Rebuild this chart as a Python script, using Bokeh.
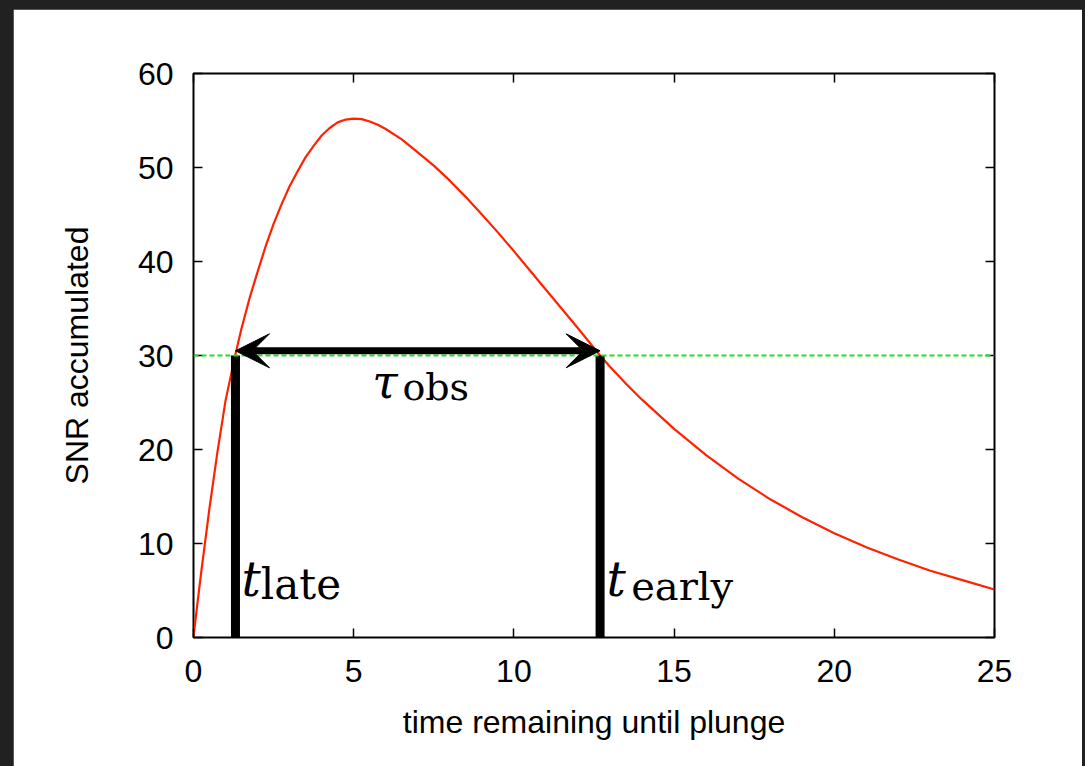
from bokeh.plotting import figure
from bokeh.models import (Range1d, FixedTicker, LinearAxis, Span, Arrow, VeeHead, Label,
                          ColumnDataSource, GlobalInlineStyleSheet)
from bokeh.embed import file_html
from bokeh.resources import INLINE

# ---------------- data ----------------
time_remaining = [0, 0.1, 0.25, 0.5, 0.75, 1.0, 1.3, 1.5, 1.75, 2.0, 2.25, 2.5, 2.75, 3.0, 3.25,
                  3.5, 3.75, 4.0, 4.25, 4.5, 4.75, 5.0, 5.25, 5.5, 5.75, 6.0, 6.5, 7.0, 7.5,
                  8.0, 8.5, 9.0, 9.5, 10.0, 10.5, 11.0, 11.5, 12.0, 12.69, 13.0, 13.5,
                  14.0, 15.0, 16.0, 17.0, 18.0, 19.0, 20.0, 21.0, 22.0, 23.0, 24.0, 25.0]
snr_accumulated = [0, 3.0, 7.2, 13.8, 19.8, 25.2, 30.0, 32.9, 36.1, 38.9, 41.6, 44.0, 46.1, 48.0, 49.6,
                   51.1, 52.3, 53.4, 54.2, 54.8, 55.1, 55.2, 55.15, 54.9, 54.55, 54.1, 53.0, 51.6, 50.2,
                   48.6, 46.85, 45.0, 43.1, 41.1, 39.05, 37.0, 34.95, 32.9, 30.0, 28.8, 27.0,
                   25.3, 22.2, 19.4, 16.9, 14.7, 12.8, 11.1, 9.6, 8.3, 7.1, 6.1, 5.1]

snr_threshold = 30.0
t_late = 1.31
t_early = 12.69

x_ticks = [0, 5, 10, 15, 20, 25]
y_ticks = [0, 10, 20, 30, 40, 50, 60]
x_label = "time remaining until plunge"
y_label = "SNR accumulated"

# ---------------- figure ----------------
SANS = "Liberation Sans"
SERIF = "DejaVu Serif"

p = figure(width=1069, height=757, output_backend="svg", toolbar_location=None,
           x_range=Range1d(0, 25), y_range=Range1d(0, 60),
           min_border_left=180, min_border_right=88, min_border_top=64, min_border_bottom=129,
           background_fill_color="white", border_fill_color="white",
           outline_line_color="black", outline_line_width=2)
p.stylesheets = [GlobalInlineStyleSheet(css="html,body{background:#212121;} body{margin:9px 0 0 13px;}")]
p.xgrid.visible = False
p.ygrid.visible = False

def style_axis(ax, ticks, show_labels):
    ax.ticker = FixedTicker(ticks=ticks)
    ax.axis_line_color = None
    ax.major_tick_in = 9
    ax.major_tick_out = 0
    ax.major_tick_line_color = "black"
    ax.major_tick_line_width = 1.5
    ax.minor_tick_line_color = None
    ax.major_label_text_font = SANS
    ax.major_label_text_font_size = "32px"
    ax.major_label_text_color = "black"
    if not show_labels:
        ax.major_label_overrides = {t: "" for t in ticks}
        ax.major_label_text_font_size = "1px"
        ax.major_label_standoff = 0

xa = p.xaxis[0]
ya = p.yaxis[0]
style_axis(xa, x_ticks, True)
style_axis(ya, y_ticks, True)
xa.major_label_standoff = 22
ya.major_label_standoff = 20
xa.axis_label = x_label
ya.axis_label = y_label
for ax in (xa, ya):
    ax.axis_label_text_font = SANS
    ax.axis_label_text_font_size = "32px"
    ax.axis_label_text_font_style = "normal"
    ax.axis_label_text_color = "black"
xa.axis_label_standoff = 19
ya.axis_label_standoff = 40

top_ax = LinearAxis()
right_ax = LinearAxis()
style_axis(top_ax, x_ticks, False)
style_axis(right_ax, y_ticks, False)
p.add_layout(top_ax, "above")
p.add_layout(right_ax, "right")

# threshold line
p.add_layout(Span(location=snr_threshold, dimension="width", line_color="#22dd22",
                  line_width=2, line_dash="5 3"))

# SNR curve
src = ColumnDataSource(dict(t=time_remaining, snr=snr_accumulated))
p.line("t", "snr", source=src, line_color="#ff2200", line_width=2.2, line_join="round")

# thick vertical bars at t_late and t_early
bars = ColumnDataSource(dict(x=[t_late, t_early], y0=[0, 0], y1=[snr_threshold, snr_threshold]))
p.segment(x0="x", y0="y0", x1="x", y1="y1", source=bars, line_color="black", line_width=9)

# double-headed arrow
arrow_y = snr_threshold + 0.5
p.add_layout(Arrow(x_start=t_late, y_start=arrow_y, x_end=t_early, y_end=arrow_y,
                   line_color="black", line_width=7,
                   start=VeeHead(size=34, fill_color="black", line_color="black", line_width=1),
                   end=VeeHead(size=34, fill_color="black", line_color="black", line_width=1)))

# math-like labels
def lab(x, y, text, size, italic=False):
    p.add_layout(Label(x=x, y=y, text=text, text_font=SERIF, text_font_size=size,
                       text_font_style="italic" if italic else "normal",
                       text_color="black", text_baseline="alphabetic", text_align="left"))

lab(1.50, 6.2, "t", "48px", italic=True)
lab(2.10, 5.6, "late", "42px")
lab(12.89, 6.2, "t", "48px", italic=True)
lab(13.66, 5.5, "early", "40px")
lab(5.58, 27.2, "τ", "46px", italic=True)
lab(6.52, 26.6, "obs", "38px")

open("out.html", "w").write(file_html(p, INLINE))
